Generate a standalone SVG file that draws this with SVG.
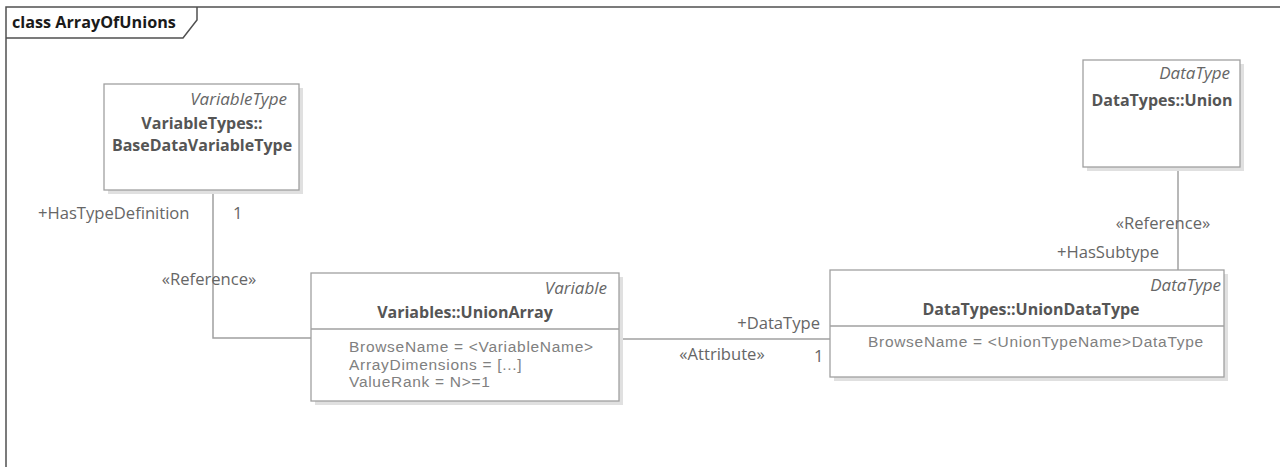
<svg xmlns="http://www.w3.org/2000/svg" width="1280" height="467" viewBox="0 0 1280 467">
<defs>
<style>
.frame{fill:none;stroke:#505050;stroke-width:1.5}
.shadow{fill:#e0e0e0}
.box{fill:#ffffff;stroke:#a0a0a0;stroke-width:1.3}
.div{stroke:#a0a0a0;stroke-width:1.3}
.conn{fill:none;stroke:#a0a0a0;stroke-width:1.5}
text{font-family:"Open Sans","Noto Sans","Liberation Sans",sans-serif;font-size:16.6px;fill:#666666}
.st{font-style:italic;text-anchor:end;fill:#666666;font-size:17px}
.nm{font-weight:bold;text-anchor:middle;fill:#555555;font-size:16px}
.ttl{font-weight:bold;font-size:16.2px;fill:#1a1a1a}
.mid{text-anchor:middle}
.end{text-anchor:end}
.attr{font-family:"Liberation Sans",Arial,sans-serif;font-size:15.5px;letter-spacing:0.7px;fill:#808080}
</style>
</defs>
<rect x="0" y="0" width="1280" height="467" fill="#ffffff"/>
<g id="frame">
<path class="frame" d="M6,467 V7 H1280"/>
<path class="frame" d="M6,38 H183 L197,20 V7"/>
<text class="ttl" x="12" y="28">class ArrayOfUnions</text>
</g>
<g id="connectors">
<path class="conn" d="M213,190 V338 H311"/>
<path class="conn" d="M619,339 H830"/>
<path class="conn" d="M1178,167 V270"/>
<text x="38" y="219">+HasTypeDefinition</text>
<text x="233" y="219">1</text>
<text class="mid" x="209" y="285">«Reference»</text>
<text class="end" x="820" y="329">+DataType</text>
<text class="mid" x="722" y="360">«Attribute»</text>
<text x="814" y="362">1</text>
<text class="mid" x="1163" y="229">«Reference»</text>
<text x="1057" y="258">+HasSubtype</text>
</g>
<g id="BaseDataVariableType">
<rect class="shadow" x="108" y="88" width="195" height="106"/>
<rect class="box" x="104" y="84" width="195" height="106"/>
<text class="st" x="287" y="105">VariableType</text>
<text class="nm" x="202" y="129">VariableTypes::<tspan x="202" dy="22">BaseDataVariableType</tspan></text>
</g>
<g id="UnionArray">
<rect class="shadow" x="315" y="277" width="308" height="128"/>
<rect class="box" x="311" y="273" width="308" height="128"/>
<line class="div" x1="311" y1="329" x2="619" y2="329"/>
<text class="st" x="607" y="294">Variable</text>
<text class="nm" x="465" y="318">Variables::UnionArray</text>
<text class="attr" x="349" y="352">BrowseName = &lt;VariableName&gt;</text>
<text class="attr" x="349" y="369.7">ArrayDimensions = [...]</text>
<text class="attr" x="349" y="387.4">ValueRank = N&gt;=1</text>
</g>
<g id="UnionDataType">
<rect class="shadow" x="834" y="274" width="394" height="107"/>
<rect class="box" x="830" y="270" width="394" height="107"/>
<line class="div" x1="830" y1="326" x2="1224" y2="326"/>
<text class="st" x="1221" y="291">DataType</text>
<text class="nm" x="1031" y="315">DataTypes::UnionDataType</text>
<text class="attr" x="868" y="347">BrowseName = &lt;UnionTypeName&gt;DataType</text>
</g>
<g id="Union">
<rect class="shadow" x="1087" y="64" width="157" height="107"/>
<rect class="box" x="1083" y="60" width="157" height="107"/>
<text class="st" x="1230" y="79">DataType</text>
<text class="nm" x="1162" y="106">DataTypes::Union</text>
</g>
</svg>
